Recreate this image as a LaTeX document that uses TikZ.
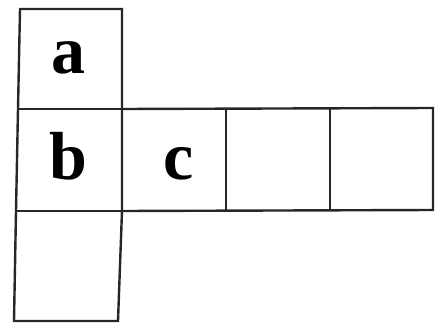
\documentclass[tikz,border=0pt]{standalone}
\usepackage{fontspec}
\setmainfont{Liberation Serif}
\begin{document}
\begin{tikzpicture}[x=1pt,y=-1pt,
  cellline/.style={line width=2.4pt,black!85,line join=miter},
  lab/.style={font=\fontsize{68}{68}\selectfont\bfseries,inner sep=0pt,anchor=base}]
\useasboundingbox (0,0) rectangle (435,323);
% left column
\coordinate (c1) at (20,9);
\coordinate (c2) at (122,9);
\coordinate (c3) at (122,109);
\coordinate (c4) at (122,211);
\coordinate (c5) at (118,321);
\coordinate (c6) at (14,321);
\coordinate (c7) at (16,211);
\coordinate (c8) at (18,109);
\draw[cellline] (c1) -- (c2) -- (c3) -- (c4) -- (c5) -- (c6) -- (c7) -- (c8) -- cycle;
\draw[cellline] (c8) -- (c3);
\draw[cellline] (c7) -- (c4);
% right row
\coordinate (r1) at (433,108);
\coordinate (r2) at (433,210);
\coordinate (v1t) at (226,108);
\coordinate (v1b) at (226,210);
\coordinate (v2t) at (330,108);
\coordinate (v2b) at (330,210);
\draw[cellline] (c3) -- (r1) -- (r2) -- (c4);
\draw[cellline] (v1t) -- (v1b);
\draw[cellline] (v2t) -- (v2b);
\node[lab] (a) at (68,74) {a};
\node[lab] (b) at (68,179) {b};
\node[lab] (c) at (179,179) {c};
\end{tikzpicture}
\end{document}
